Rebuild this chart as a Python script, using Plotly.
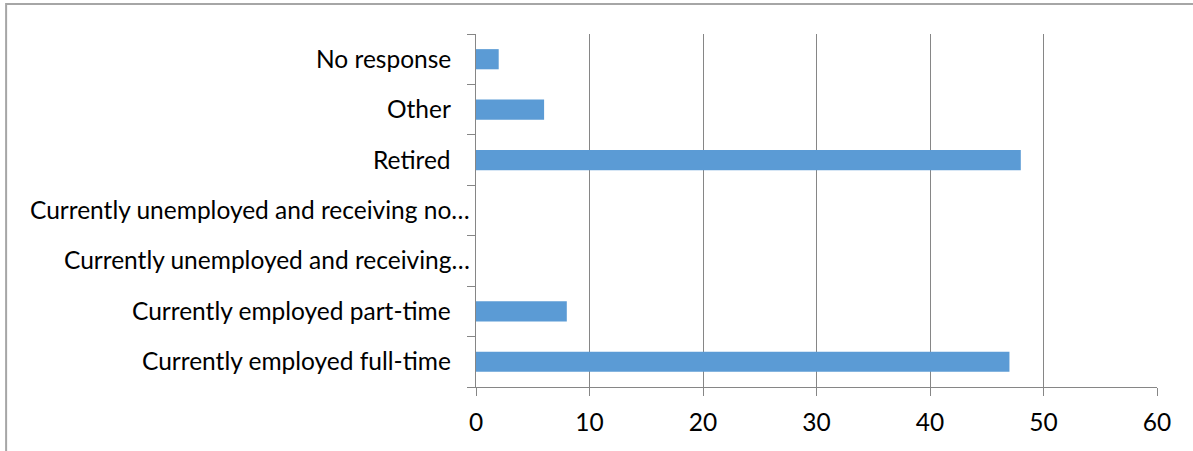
import plotly.graph_objects as go

categories = [
    "Currently employed full-time",
    "Currently employed part-time",
    "Currently unemployed and receiving…",
    "Currently unemployed and receiving no…",
    "Retired",
    "Other",
    "No response",
]
values = [47, 8, 0, 0, 48, 6, 2]
x_ticks = [0, 10, 20, 30, 40, 50, 60]

font_family = "Lato, 'Open Sans', sans-serif"
axis_gray = "#868686"
font_size = 24.5

fig = go.Figure(
    go.Bar(
        x=values,
        y=categories,
        orientation="h",
        marker=dict(color="#5B9BD5", line=dict(width=0)),
    )
)

annotations = []
for cat in categories:
    truncated = cat.endswith("…")
    annotations.append(
        dict(
            x=0, y=cat, xref="x", yref="y",
            text=cat, showarrow=False,
            xanchor="right", yanchor="middle",
            xshift=-4 if truncated else -23,
            yshift=1,
            font=dict(family=font_family, size=font_size, color="#000000"),
        )
    )

fig.update_layout(
    width=1193,
    height=451,
    margin=dict(l=476, r=36, t=34, b=64, autoexpand=False),
    paper_bgcolor="white",
    plot_bgcolor="white",
    bargap=0.6,
    showlegend=False,
    font=dict(family=font_family, size=font_size, color="#000000"),
    annotations=annotations,
    shapes=[
        dict(
            type="rect", xref="paper", yref="paper",
            x0=-0.69, x1=1.2, y0=-0.3, y1=1.085,
            line=dict(color="#a6a6a6", width=2), fillcolor="rgba(0,0,0,0)",
            layer="below",
        )
    ],
)

fig.update_xaxes(
    automargin=False,
    range=[0, 60],
    tickvals=x_ticks,
    ticktext=[str(v) for v in x_ticks],
    showgrid=True,
    gridcolor=axis_gray,
    gridwidth=1,
    zeroline=False,
    showline=True,
    linecolor=axis_gray,
    linewidth=1,
    ticks="outside",
    ticklen=8,
    tickcolor=axis_gray,
    tickfont=dict(size=font_size),
    ticklabelstandoff=6,
)

fig.update_yaxes(
    automargin=False,
    categoryorder="array",
    categoryarray=categories,
    tickson="boundaries",
    ticks="outside",
    ticklen=8,
    tickcolor=axis_gray,
    showline=True,
    linecolor=axis_gray,
    linewidth=1,
    showgrid=False,
    zeroline=False,
    showticklabels=False,
)

fig.write_html("out.html")
